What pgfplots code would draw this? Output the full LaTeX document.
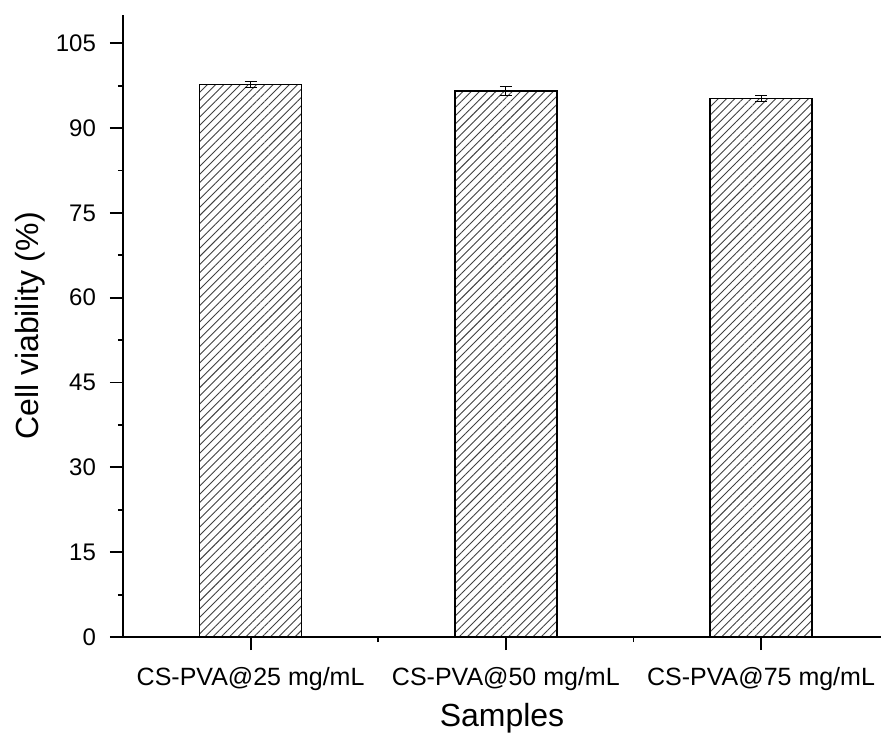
\documentclass[border=0pt]{standalone}
\usepackage{fontspec}
\setmainfont{Liberation Sans}
\usepackage{pgfplots}
\pgfplotsset{compat=1.18}
\usetikzlibrary{patterns.meta}

\begin{document}
\begin{tikzpicture}
\begin{axis}[
    scale only axis,
    width=379pt, height=311pt,
    axis lines=left,
    axis line style={line width=0.9pt, -},
    xmin=-0.5, xmax=2.47,
    ymin=0, ymax=110,
    ytick={0,15,30,45,60,75,90,105},
    minor y tick num=1,
    xtick={0,1,2},
    xticklabels={CS-PVA@25 mg/mL, CS-PVA@50 mg/mL, CS-PVA@75 mg/mL},
    minor x tick num=1,
    tick align=outside,
    tick pos=left,
    major tick length=6.5pt,
    minor tick length=2.5pt,
    tick style={line width=0.9pt, black},
    /pgf/number format/assume math mode=true,
    yticklabel style={font=\fontsize{12}{14}\selectfont, xshift=-3.5pt},
    xticklabel style={font=\fontsize{12.5}{14}\selectfont, yshift=-5pt},
    xlabel={Samples},
    ylabel={Cell viability (\%)},
    label style={font=\fontsize{16}{18}\selectfont},
    xlabel style={at={(rel axis cs:0.5,0)}, anchor=center, yshift=-40.5pt},
    ylabel style={at={(rel axis cs:0,0.5)}, anchor=center, yshift=46.5pt},
    clip=false,
]
\addplot[
    ybar, bar width=0.4,
    draw=black, line width=0.8pt,
    pattern={Lines[angle=45, distance=2.9pt, line width=0.45pt]},
    pattern color=black!75,
    error bars/.cd, y dir=both, y explicit,
    error bar style={line width=0.5pt, black},
    error mark options={rotate=90, mark size=3pt, line width=0.5pt, black},
] coordinates {
    (0,97.7) +- (0,0.6)
    (1,96.6) +- (0,0.75)
    (2,95.2) +- (0,0.55)
};
\coordinate (bl) at (rel axis cs:0,0);
\coordinate (tr) at (rel axis cs:1,1);
\end{axis}
\pgfresetboundingbox
\path ([shift={(-61.5pt,-49pt)}]bl) rectangle ([shift={(0pt,7.5pt)}]tr);
\end{tikzpicture}
\end{document}
